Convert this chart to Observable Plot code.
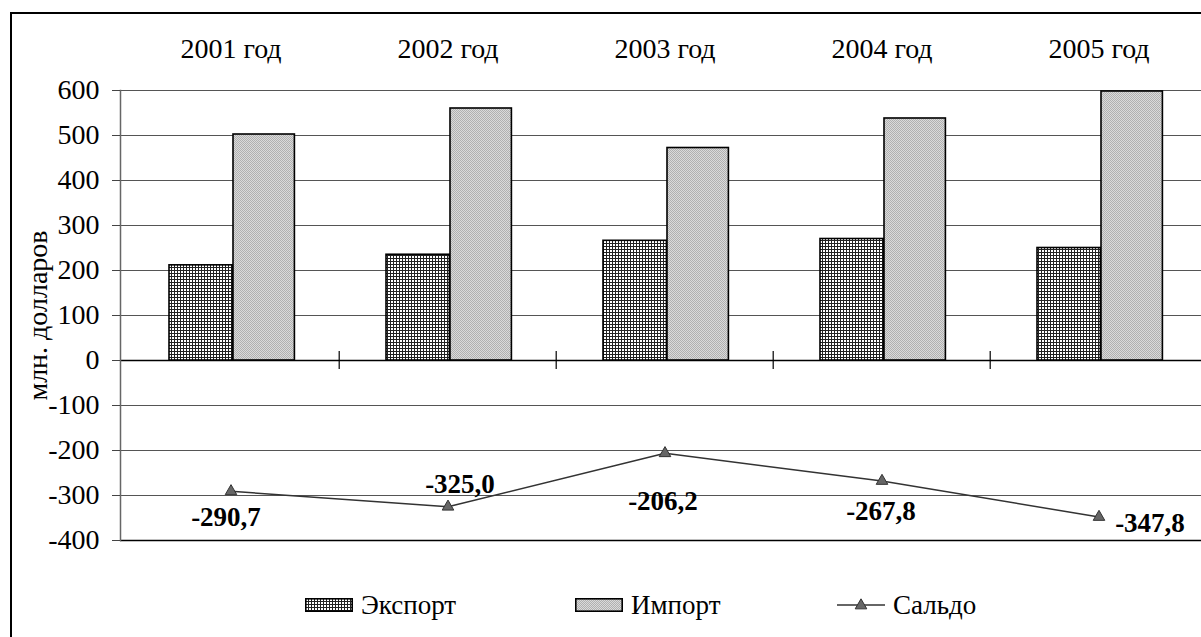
<!DOCTYPE html>
<html>
<head>
<meta charset="utf-8">
<script src="https://cdn.jsdelivr.net/npm/d3@7"></script>
<script src="https://cdn.jsdelivr.net/npm/@observablehq/plot@0.6"></script>
<style>
  html, body { margin: 0; padding: 0; background: #fff; overflow: hidden; }
  body, #page, #legend, .item, #chart svg, #chart svg text { font-family: 'Liberation Serif', 'Times New Roman', serif !important; }
  #page { position: relative; width: 1201px; height: 637px; overflow: hidden; }
  #frame { position: absolute; left: 10px; top: 12px; width: 1400px; height: 900px; border: 2px solid #000; box-sizing: border-box; }
  #chart { position: absolute; left: 0; top: 0; }
  #legend { position: absolute; left: 0; top: 590px; width: 1201px; height: 30px; }
  .item { position: absolute; top: 0; height: 30px; display: flex; align-items: center; font-size: 27px; color: #000; white-space: nowrap; }
  .item svg { display: block; margin-right: 8px; }
</style>
</head>
<body>
<div id="page">
  <div id="frame"></div>
  <div id="chart"></div>
  <div id="legend"></div>
</div>
<script>
// ---- data ----
const years = ["2001", "2002", "2003", "2004", "2005"];
const exportValues = [211.5, 235.0, 266.0, 270.0, 250.0];
const importValues = [502.2, 560.0, 472.2, 537.8, 597.8];
const saldoValues = [-290.7, -325.0, -206.2, -267.8, -347.8];
const yTicks = [-400, -300, -200, -100, 0, 100, 200, 300, 400, 500, 600];
const seriesNames = ["Экспорт", "Импорт", "Сальдо"];
const yearSuffix = " год";
const axisTitle = "млн. долларов";

// ---- layout (not data) ----
const FONT = "'Liberation Serif', 'Times New Roman', serif";
const labelOffsets = [[-5, 26], [12, -22], [-2, 48], [-1, 30], [51, 6]];

const rows = years.map((y, i) => ({year: y, exp: exportValues[i], imp: importValues[i], saldo: saldoValues[i], i}));
const fmt = v => v.toFixed(1).replace(".", ",");

const chart = Plot.plot({
  width: 1201,
  height: 560,
  marginLeft: 120,
  marginRight: 0,
  marginTop: 90,
  marginBottom: 20,
  style: {fontFamily: FONT, fontSize: "28px", color: "#000", background: "transparent", overflow: "visible"},
  x: {type: "band", domain: years, range: [120, 1208], padding: 0, axis: null},
  y: {domain: [-400, 600], ticks: yTicks, axis: null},
  marks: [
    Plot.ruleY(yTicks, {stroke: "#555", strokeWidth: 1.2}),
    Plot.ruleY([-400, 0], {stroke: "#000", strokeWidth: 1.5}),
    Plot.frame({anchor: "left", stroke: "#666", strokeWidth: 1.5}),
    Plot.axisY({ticks: yTicks, tickSize: 8, tickPadding: 13, tickFormat: d => String(d), fontSize: 28, fontFamily: FONT, label: null, stroke: "#444"}),
    Plot.ruleX(years.slice(1), {x: d => d, y1: -20, y2: 20, dx: -108.8, stroke: "#000", strokeWidth: 1.2}),
    Plot.barY(rows, {x: "year", y: "exp", fill: "url(#patExport)", stroke: "#000", strokeWidth: 1.6, insetLeft: 47, insetRight: 106.6}),
    Plot.barY(rows, {x: "year", y: "imp", fill: "url(#patImport)", stroke: "#000", strokeWidth: 1.6, insetLeft: 111, insetRight: 44.6}),
    Plot.line(rows, {x: "year", y: "saldo", stroke: "#333", strokeWidth: 1.5}),
    Plot.dot(rows, {x: "year", y: "saldo", symbol: "triangle", r: 4.3, fill: "#666", stroke: "#333", strokeWidth: 1}),
    ...labelOffsets.map(([dx, dy], i) =>
      Plot.text(rows.filter(d => d.i === i), {x: "year", y: "saldo", text: d => fmt(d.saldo), dx, dy, fontSize: 27, fontWeight: "bold", fontFamily: FONT, fill: "#000"})
    ),
    Plot.text(rows, {x: "year", text: d => d.year + yearSuffix, frameAnchor: "top", dy: -52, fontSize: 28, fontFamily: FONT, fill: "#000"}),
    Plot.text([axisTitle], {frameAnchor: "left", textAnchor: "middle", rotate: -90, dx: -82, fontSize: 28, fontFamily: FONT, fill: "#000"})
  ]
});

// patterns
const svg = d3.select(chart);
const defs = svg.insert("defs", ":first-child");
const pe = defs.append("pattern").attr("id", "patExport").attr("patternUnits", "userSpaceOnUse").attr("width", 3).attr("height", 3);
pe.append("rect").attr("width", 3).attr("height", 3).attr("fill", "#fff");
pe.append("rect").attr("x", 0).attr("y", 0).attr("width", 3).attr("height", 1).attr("fill", "#222");
pe.append("rect").attr("x", 0).attr("y", 0).attr("width", 1).attr("height", 3).attr("fill", "#222");
const pi = defs.append("pattern").attr("id", "patImport").attr("patternUnits", "userSpaceOnUse").attr("width", 2).attr("height", 2);
pi.append("rect").attr("width", 2).attr("height", 2).attr("fill", "#dadada");
pi.append("rect").attr("x", 0).attr("y", 0).attr("width", 1).attr("height", 1).attr("fill", "#b0b0b0");
pi.append("rect").attr("x", 1).attr("y", 1).attr("width", 1).attr("height", 1).attr("fill", "#b0b0b0");

document.getElementById("chart").appendChild(chart);

// legend
const legend = d3.select("#legend");
const itemLeft = [305, 575, 837];
seriesNames.forEach((name, i) => {
  const it = legend.append("div").attr("class", "item").style("left", itemLeft[i] + "px");
  const s = it.append("svg").attr("width", 48).attr("height", 14);
  if (i < 2) {
    s.append("rect").attr("x", 0.8).attr("y", 0.8).attr("width", 46.4).attr("height", 12.4)
      .attr("fill", i === 0 ? "url(#patExport)" : "url(#patImport)").attr("stroke", "#000").attr("stroke-width", 1.6);
  } else {
    s.append("line").attr("x1", 0).attr("x2", 48).attr("y1", 7).attr("y2", 7).attr("stroke", "#333").attr("stroke-width", 1.5);
    s.append("path").attr("d", d3.symbol(d3.symbolTriangle, 4.3 * 4.3 * Math.PI)()).attr("transform", "translate(24,7.5)")
      .attr("fill", "#666").attr("stroke", "#333");
  }
  it.append("span").text(name);
});
</script>
</body>
</html>
